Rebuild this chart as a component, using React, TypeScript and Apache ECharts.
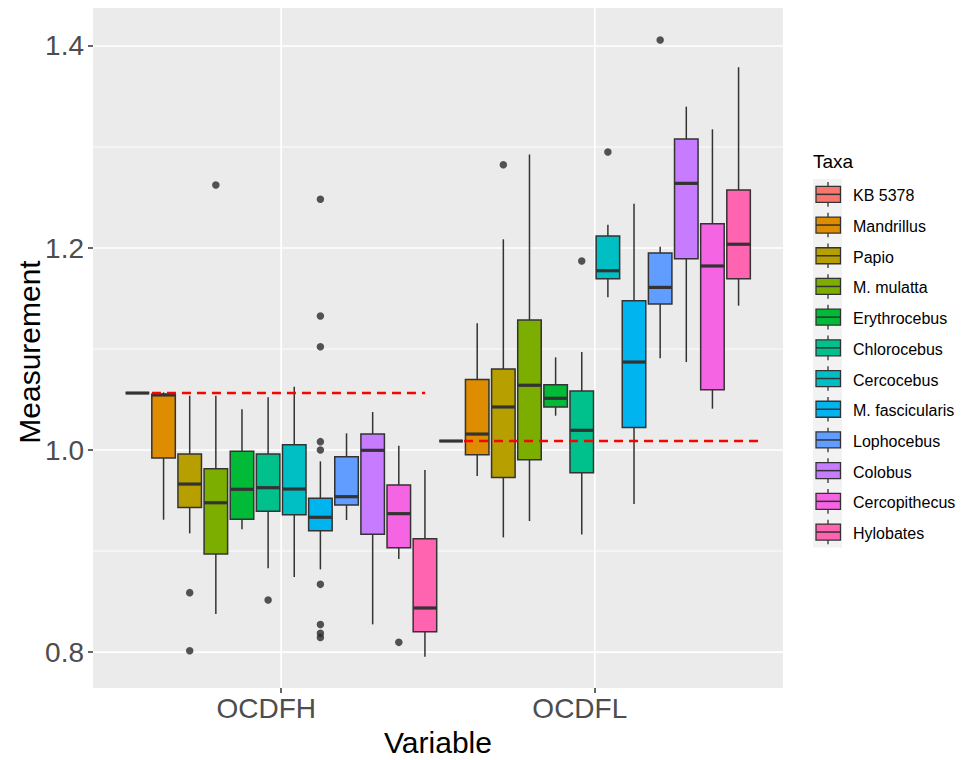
import React, { useEffect, useRef } from 'react';
import * as echarts from 'echarts';

const taxa = ['KB 5378', 'Mandrillus', 'Papio', 'M. mulatta', 'Erythrocebus', 'Chlorocebus', 'Cercocebus', 'M. fascicularis', 'Lophocebus', 'Colobus', 'Cercopithecus', 'Hylobates'];
const taxaColors = ['#F8766D', '#DE8C00', '#B79F00', '#7CAE00', '#00BA38', '#00C08B', '#00BFC4', '#00B4F0', '#619CFF', '#C77CFF', '#F564E3', '#FF64B0'];
const variables = ['OCDFH', 'OCDFL'];
const variablePositions = [1, 2];

// [min, Q1, median, Q3, max] per taxon
const ocdfhStats = [
  [1.0564, 1.0564, 1.0564, 1.0564, 1.0564],
  [0.931, 0.992, 1.0545, 1.0551, 1.0571],
  [0.9175, 0.9432, 0.9663, 0.996, 1.0538],
  [0.8376, 0.897, 0.9478, 0.9815, 1.0538],
  [0.9215, 0.9314, 0.9611, 0.9987, 1.0403],
  [0.8829, 0.9393, 0.9627, 0.996, 1.0522],
  [0.8743, 0.936, 0.9614, 1.0053, 1.0627],
  [0.8818, 0.9201, 0.9334, 0.9522, 0.9888],
  [0.9307, 0.9455, 0.9538, 0.9934, 1.0165],
  [0.8274, 0.9165, 0.9997, 1.0158, 1.0376],
  [0.8921, 0.9033, 0.937, 0.9653, 1.0043],
  [0.7954, 0.8202, 0.8436, 0.9122, 0.9802],
];
const ocdflStats = [
  [1.0089, 1.0089, 1.0089, 1.0089, 1.0089],
  [0.9743, 0.9952, 1.0158, 1.0697, 1.1254],
  [0.9135, 0.9727, 1.0426, 1.0802, 1.2086],
  [0.9297, 0.9904, 1.0641, 1.1287, 1.2926],
  [1.034, 1.0426, 1.0512, 1.0647, 1.0917],
  [0.9163, 0.9775, 1.0195, 1.0584, 1.097],
  [1.1512, 1.1696, 1.1775, 1.2119, 1.2231],
  [0.9465, 1.0224, 1.0871, 1.1478, 1.2438],
  [1.0908, 1.1446, 1.161, 1.195, 1.2013],
  [1.0871, 1.1894, 1.264, 1.3079, 1.3399],
  [1.0409, 1.0597, 1.1822, 1.2241, 1.3175],
  [1.1429, 1.1696, 1.2037, 1.2574, 1.379],
];
const ocdfhOutliers = [
  [], [], [0.8588, 0.8013], [1.2624], [], [0.8515], [],
  [1.2482, 1.1327, 1.1023, 1.0083, 1.0, 0.867, 0.8272, 0.8185, 0.8145],
  [], [], [0.8096], [],
];
const ocdflOutliers = [
  [], [], [1.2825], [], [], [1.1871], [1.2951], [], [1.4059], [], [], [],
];
const kbReference = [1.0564, 1.0089];
const refLineStart = [0.588, 1.583];
const refLineEnd = [1.459, 2.538];
const yMajorBreaks = [0.8, 1.0, 1.2, 1.4];
const yMinorBreaks = [0.9, 1.1, 1.3];
const yLimits = [0.7644, 1.4376];
const xLimits = [0.4, 2.6];

const FONT = "'Liberation Sans', Arial, Helvetica, sans-serif";
const dodgeStep = 1 / 12;
const boxHalf = 0.0375;
const INK = '#333333';

export default function App() {
  const ref = useRef<HTMLDivElement>(null);
  useEffect(() => {
    if (!ref.current) return;
    const chart = echarts.init(ref.current, undefined, { renderer: 'svg' });

    const statsByGroup = [ocdfhStats, ocdflStats];
    const outByGroup = [ocdfhOutliers, ocdflOutliers];
    const boxData: number[][] = [];
    const outlierData: number[][] = [];
    statsByGroup.forEach((stats, g) => {
      stats.forEach((s, t) => {
        const x = variablePositions[g] + (t - 5.5) * dodgeStep;
        boxData.push([x, t, s[0], s[1], s[2], s[3], s[4]]);
        outByGroup[g][t].forEach((v) => outlierData.push([x, v]));
      });
    });

    const gridData: number[][] = [
      ...yMajorBreaks.map((v) => [0, v, 1]),
      ...yMinorBreaks.map((v) => [0, v, 0]),
      ...variablePositions.map((p) => [1, p, 1]),
    ];

    const legendGraphics: any[] = [];
    const keyTop = 179;
    const keyH = 30.7;
    legendGraphics.push({
      type: 'text', x: 813, y: 161,
      style: { text: 'Taxa', fontSize: 19, fill: '#000', fontFamily: FONT, verticalAlign: 'middle', align: 'left' },
    });
    legendGraphics.push({
      type: 'rect', shape: { x: 813, y: keyTop, width: 29, height: keyH * taxa.length },
      style: { fill: '#F2F2F2' },
    });
    taxa.forEach((name, i) => {
      const cy = keyTop + keyH * (i + 0.5);
      const cx = 828;
      legendGraphics.push({ type: 'line', shape: { x1: cx, y1: cy - 12.3, x2: cx, y2: cy + 12.3 }, style: { stroke: INK, lineWidth: 1.3 } });
      legendGraphics.push({ type: 'rect', shape: { x: 816, y: cy - 8, width: 24.5, height: 16 }, style: { fill: taxaColors[i], stroke: INK, lineWidth: 1.3 } });
      legendGraphics.push({ type: 'line', shape: { x1: 816, y1: cy, x2: 840.5, y2: cy }, style: { stroke: INK, lineWidth: 1.5 } });
      legendGraphics.push({
        type: 'text', x: 853, y: cy + 1.5,
        style: { text: name, fontSize: 16, fill: '#000', fontFamily: FONT, verticalAlign: 'middle', align: 'left' },
      });
    });

    const option: any = {
      animation: false,
      backgroundColor: '#FFFFFF',
      textStyle: { fontFamily: FONT },
      grid: {
        left: 93, top: 8, width: 690, height: 680,
        show: true, backgroundColor: '#EBEBEB', borderWidth: 0, containLabel: false,
      },
      xAxis: {
        type: 'value', min: xLimits[0], max: xLimits[1],
        axisLine: { show: false },
        splitLine: { show: false },
        axisTick: { show: true, customValues: variablePositions, length: 5, lineStyle: { color: INK, width: 1.5 } },
        axisLabel: {
          customValues: variablePositions,
          formatter: (v: number) => variables[variablePositions.indexOf(Math.round(v))] ?? '',
          fontSize: 28, color: '#4D4D4D', margin: 6, fontFamily: FONT,
          padding: [0, 30, 0, 0],
        },
      },
      yAxis: {
        type: 'value', min: yLimits[0], max: yLimits[1],
        axisLine: { show: false },
        splitLine: { show: false },
        axisTick: { show: true, customValues: yMajorBreaks, length: 5, lineStyle: { color: INK, width: 1.5 } },
        axisLabel: {
          customValues: yMajorBreaks,
          formatter: (v: number) => v.toFixed(1),
          fontSize: 28, color: '#4D4D4D', margin: 9, fontFamily: FONT,
        },
      },
      graphic: [
        {
          type: 'text', x: 29, y: 352, rotation: Math.PI / 2,
          style: { text: 'Measurement', fontSize: 30, fill: '#000', fontFamily: FONT, align: 'center', verticalAlign: 'middle' },
        },
        {
          type: 'text', x: 438, y: 742,
          style: { text: 'Variable', fontSize: 30, fill: '#000', fontFamily: FONT, align: 'center', verticalAlign: 'middle' },
        },
        ...legendGraphics,
      ],
      series: [
        {
          type: 'custom', name: 'grid', silent: true, z: 1,
          data: gridData,
          renderItem: (params: any, api: any) => {
            const cs = params.coordSys;
            const orient = api.value(0);
            const v = api.value(1);
            const major = api.value(2);
            if (orient === 0) {
              const y = api.coord([1, v])[1];
              return { type: 'line', shape: { x1: cs.x, y1: y, x2: cs.x + cs.width, y2: y }, style: { stroke: '#FFFFFF', lineWidth: major ? 1.7 : 0.9 } };
            }
            const x = api.coord([v, 1])[0];
            return { type: 'line', shape: { x1: x, y1: cs.y, x2: x, y2: cs.y + cs.height }, style: { stroke: '#FFFFFF', lineWidth: 1.7 } };
          },
        },
        {
          type: 'custom', name: 'boxes', z: 3,
          data: boxData,
          encode: { x: 0, y: [2, 3, 4, 5, 6] },
          renderItem: (_params: any, api: any) => {
            const x = api.value(0);
            const t = api.value(1);
            const mn = api.value(2), q1 = api.value(3), md = api.value(4), q3 = api.value(5), mx = api.value(6);
            const pTL = api.coord([x - boxHalf, q3]);
            const pBR = api.coord([x + boxHalf, q1]);
            const pMx = api.coord([x, mx]);
            const pQ3 = api.coord([x, q3]);
            const pQ1 = api.coord([x, q1]);
            const pMn = api.coord([x, mn]);
            const pML = api.coord([x - boxHalf, md]);
            const pMR = api.coord([x + boxHalf, md]);
            return {
              type: 'group',
              children: [
                { type: 'line', shape: { x1: pQ3[0], y1: pQ3[1], x2: pMx[0], y2: pMx[1] }, style: { stroke: INK, lineWidth: 1.5 } },
                { type: 'line', shape: { x1: pQ1[0], y1: pQ1[1], x2: pMn[0], y2: pMn[1] }, style: { stroke: INK, lineWidth: 1.5 } },
                { type: 'rect', shape: { x: pTL[0], y: pTL[1], width: pBR[0] - pTL[0], height: pBR[1] - pTL[1] }, style: { fill: taxaColors[t], stroke: INK, lineWidth: 1.5 } },
                { type: 'line', shape: { x1: pML[0], y1: pML[1], x2: pMR[0], y2: pMR[1] }, style: { stroke: INK, lineWidth: 3.2 } },
              ],
            };
          },
        },
        {
          type: 'scatter', name: 'outliers', z: 4,
          data: outlierData,
          symbol: 'circle', symbolSize: 7.5,
          itemStyle: { color: '#2B2B2B' },
          silent: true,
        },
        ...kbReference.map((v, i) => ({
          type: 'line', name: 'ref' + i, z: 5,
          data: [[refLineStart[i], v], [refLineEnd[i], v]],
          symbol: 'none', silent: true,
          lineStyle: { color: '#FF0000', width: 2.6, type: [9, 6] },
        })),
      ],
    };

    chart.setOption(option);
    return () => chart.dispose();
  }, []);

  return <div ref={ref} style={{ position: 'fixed', left: 0, top: 0, width: 965, height: 760 }} />;
}
